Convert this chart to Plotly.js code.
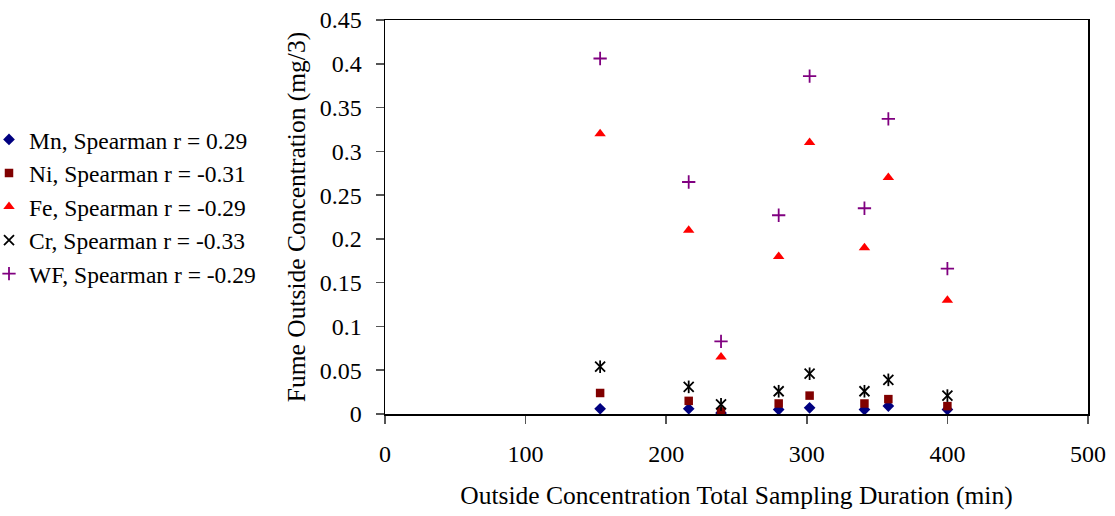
<!DOCTYPE html>
<html>
<head>
<meta charset="utf-8">
<script src="https://cdn.plot.ly/plotly-3.0.1.min.js"></script>
<style>
html,body{margin:0;padding:0;background:#fff;}
#chart{width:1115px;height:516px;}
</style>
</head>
<body>
<div id="chart"></div>
<script>
// Data
const durations = [153, 216, 239, 280, 302, 341, 358, 400];
const mnValues = [0.006, 0.006, 0.001, 0.005, 0.007, 0.005, 0.009, 0.005];
const niValues = [0.024, 0.015, 0.003, 0.012, 0.021, 0.012, 0.017, 0.009];
const feValues = [0.32, 0.21, 0.065, 0.18, 0.31, 0.19, 0.27, 0.13];
const crValues = [0.054, 0.031, 0.011, 0.026, 0.046, 0.026, 0.039, 0.021];
const wfValues = [0.406, 0.265, 0.083, 0.227, 0.386, 0.235, 0.337, 0.166];
const seriesNames = [
  'Mn, Spearman r = 0.29',
  'Ni, Spearman r = -0.31',
  'Fe, Spearman r = -0.29',
  'Cr, Spearman r = -0.33',
  'WF, Spearman r = -0.29'
];
const xTickVals = [0, 100, 200, 300, 400, 500];
const xTickText = ['0', '100', '200', '300', '400', '500'];
const xTitle = 'Outside Concentration Total Sampling Duration (min)';
const yTitle = 'Fume Outside Concentration (mg/3)';

const FONT = '"Liberation Serif", "Times New Roman", serif';

const traces = [
  {x: durations, y: mnValues, name: seriesNames[0], legendgroup: 'a', type: 'scatter', mode: 'markers',
   marker: {symbol: 'diamond', size: 9, color: '#000080'}},
  {x: durations, y: niValues, name: seriesNames[1], legendgroup: 'b', type: 'scatter', mode: 'markers',
   marker: {symbol: 'square', size: 8.5, color: '#800000'}},
  {x: durations, y: feValues, name: seriesNames[2], legendgroup: 'c', type: 'scatter', mode: 'markers',
   marker: {symbol: 'triangle-up', size: 10, color: '#FF0000'}},
  {x: durations, y: crValues, name: seriesNames[3], legendgroup: 'd', type: 'scatter', mode: 'markers',
   marker: {symbol: 'x-thin-open', size: 10, color: '#000000', line: {width: 1.8, color: '#000000'}}},
  {x: durations, y: crValues, name: seriesNames[3], legendgroup: 'd', showlegend: false, type: 'scatter', mode: 'markers',
   marker: {symbol: 'line-ns-open', size: 9, color: '#000000', line: {width: 1.8, color: '#000000'}}},
  {x: durations, y: wfValues, name: seriesNames[4], legendgroup: 'e', type: 'scatter', mode: 'markers',
   marker: {symbol: 'cross-thin-open', size: 9.5, color: '#800080', line: {width: 1.8, color: '#800080'}}}
];

const layout = {
  width: 1115, height: 516,
  paper_bgcolor: '#ffffff', plot_bgcolor: '#ffffff',
  margin: {l: 385, r: 27, t: 20, b: 102, pad: 0},
  font: {family: FONT, color: '#000000', size: 24},
  showlegend: true,
  hovermode: false,
  legend: {
    xref: 'container', yref: 'container',
    x: 0, y: 0.772, xanchor: 'left', yanchor: 'top',
    indentation: -11,
    font: {family: FONT, size: 23.5, color: '#000000'},
    tracegroupgap: 0, itemwidth: 30,
    bgcolor: 'rgba(0,0,0,0)'
  },
  xaxis: {
    range: [0, 500], tickvals: xTickVals, ticktext: xTickText,
    showgrid: false, zeroline: false,
    showline: true, linecolor: '#000000', linewidth: 1.5, mirror: true,
    ticks: 'outside', ticklen: 8, tickcolor: '#555555', tickwidth: 1.5,
    ticklabelstandoff: 10,
    tickfont: {family: FONT, size: 24, color: '#000000'},
    title: {text: xTitle, font: {family: FONT, size: 25.5, color: '#000000'}, standoff: 20}
  },
  yaxis: {
    range: [0, 0.45], dtick: 0.05, tick0: 0,
    showgrid: false, zeroline: false,
    showline: true, linecolor: '#000000', linewidth: 1.5, mirror: true,
    ticks: 'outside', ticklen: 8, tickcolor: '#555555', tickwidth: 1.5,
    ticklabelstandoff: 9,
    tickfont: {family: FONT, size: 24, color: '#000000'},
    title: {text: yTitle, font: {family: FONT, size: 25.5, color: '#000000'}, standoff: 7}
  }
};

Plotly.newPlot('chart', traces, layout, {staticPlot: true, displayModeBar: false});
</script>
</body>
</html>
